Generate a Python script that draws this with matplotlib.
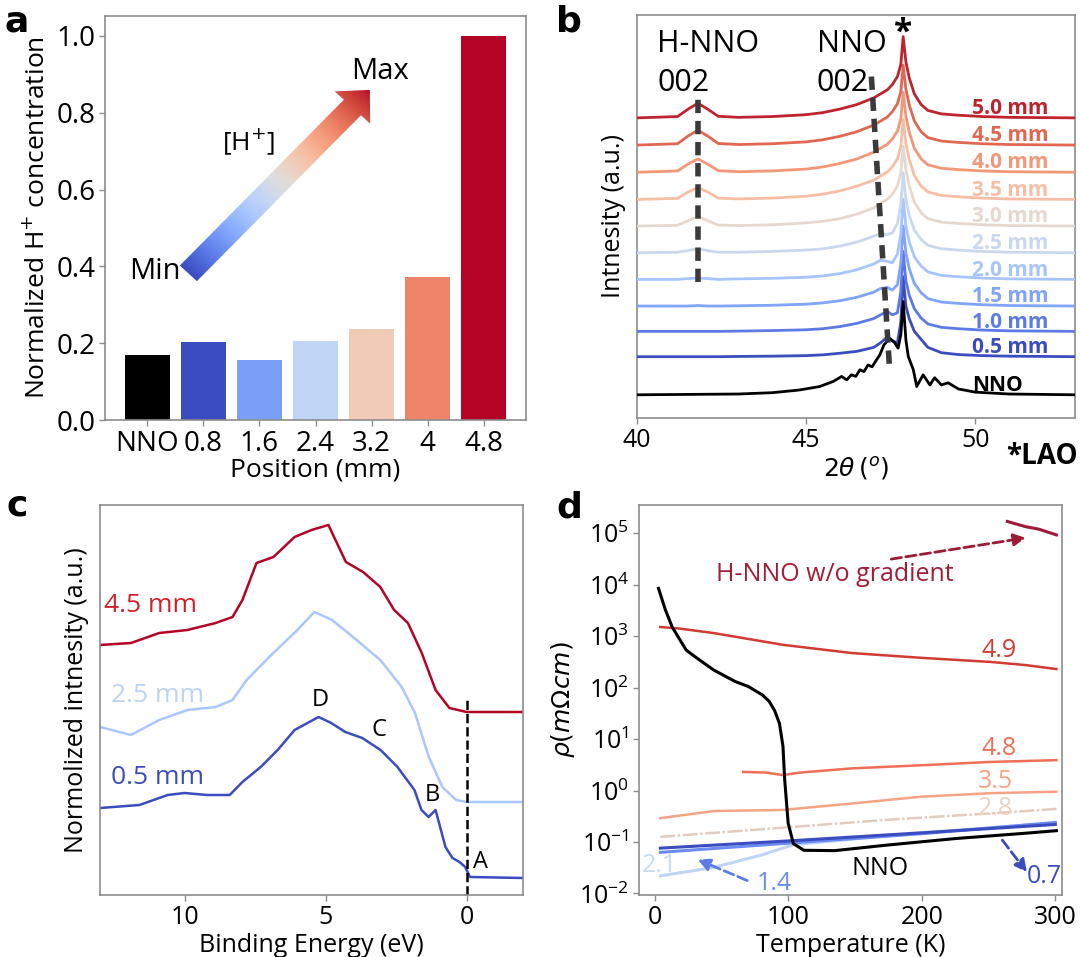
import numpy as np
import matplotlib
matplotlib.use('Agg')
import matplotlib.pyplot as plt
from matplotlib.patches import FancyArrow

plt.rcParams['font.family'] = ['Open Sans', 'DejaVu Sans']
plt.rcParams['mathtext.fontset'] = 'dejavusans'

# ---------------- Panel a data ----------------
a_positions = ['NNO', '0.8', '1.6', '2.4', '3.2', '4', '4.8']
a_conc = [0.169, 0.204, 0.155, 0.206, 0.237, 0.372, 1.0]

# ---------------- Panel b data (XRD, height above each baseline) ----------------
b_labels = ['NNO', '0.5 mm', '1.0 mm', '1.5 mm', '2.0 mm', '2.5 mm',
            '3.0 mm', '3.5 mm', '4.0 mm', '4.5 mm', '5.0 mm']
b_offsets = [0.87, 2.3, 3.25, 4.2, 5.2, 6.2, 7.2, 8.2, 9.22, 10.24, 11.26]
b_tt = [40.0, 41.2, 41.5, 41.8, 42.1, 42.4, 43.0, 44.0, 45.0, 45.5, 46.0, 46.5,
        47.0, 47.2, 47.4, 47.55, 47.7, 47.8, 47.87, 47.95, 48.05, 48.2, 48.4,
        48.6, 49.0, 49.5, 50.2, 51.0, 53.0]
b_05 = [0, 0, 0, 0, 0, 0, 0.01, 0.02, 0.04, 0.07, 0.13, 0.2, 0.35, 0.52, 0.74, 0.6,
        0.52, 1.3, 3.0, 1.9, 1.42, 0.95, 0.65, 0.35, 0.15, 0.08, 0.04, 0.02, 0]
b_10 = [0, 0, 0, 0, 0, 0, 0.01, 0.03, 0.06, 0.1, 0.18, 0.3, 0.48, 0.62, 0.75, 0.62,
        0.7, 1.5, 3.0, 1.9, 1.35, 0.85, 0.5, 0.28, 0.15, 0.1, 0.05, 0.02, 0]
b_15 = [0, 0, 0, 0.02, 0, 0, 0.01, 0.03, 0.07, 0.12, 0.2, 0.33, 0.52, 0.66, 0.7, 0.6,
        0.8, 1.6, 3.0, 2.0, 1.4, 0.85, 0.5, 0.28, 0.15, 0.1, 0.05, 0.02, 0]
b_20 = [0, 0, 0.03, 0.05, 0.03, 0, 0.02, 0.04, 0.08, 0.13, 0.22, 0.36, 0.58, 0.72, 0.68,
        0.62, 0.95, 1.7, 3.0, 2.0, 1.4, 0.85, 0.5, 0.28, 0.15, 0.1, 0.05, 0.02, 0]
b_25 = [0, 0.02, 0.08, 0.15, 0.08, 0.02, 0.02, 0.05, 0.1, 0.15, 0.25, 0.4, 0.62, 0.72,
        0.68, 0.75, 1.1, 1.8, 3.0, 2.0, 1.4, 0.85, 0.5, 0.28, 0.15, 0.1, 0.05, 0.02, 0]
b_30 = [0, 0.03, 0.2, 0.35, 0.2, 0.04, 0.02, 0.05, 0.12, 0.18, 0.28, 0.45, 0.68, 0.85,
        1.0, 1.2, 1.5, 2.0, 3.0, 2.1, 1.5, 0.9, 0.5, 0.28, 0.15, 0.1, 0.05, 0.02, 0]
b_35 = [0, 0.04, 0.27, 0.45, 0.27, 0.05, 0.02, 0.05, 0.12, 0.2, 0.32, 0.5, 0.72, 0.88,
        1.03, 1.22, 1.52, 2.0, 3.0, 2.1, 1.5, 0.9, 0.5, 0.28, 0.15, 0.1, 0.05, 0.02, 0]
b_40 = [0, 0.05, 0.3, 0.5, 0.3, 0.06, 0.02, 0.05, 0.12, 0.2, 0.33, 0.5, 0.75, 0.9,
        1.05, 1.25, 1.55, 2.0, 3.0, 2.1, 1.5, 0.9, 0.5, 0.28, 0.15, 0.1, 0.05, 0.02, 0]
b_45 = [0, 0.05, 0.33, 0.56, 0.33, 0.06, 0.02, 0.05, 0.12, 0.2, 0.33, 0.5, 0.75, 0.9,
        1.05, 1.25, 1.55, 2.0, 3.0, 2.1, 1.5, 0.9, 0.5, 0.28, 0.15, 0.1, 0.05, 0.02, 0]
b_50 = [0, 0.05, 0.32, 0.55, 0.32, 0.06, 0.02, 0.05, 0.12, 0.2, 0.33, 0.5, 0.75, 0.9,
        1.05, 1.25, 1.55, 2.0, 3.05, 2.1, 1.5, 0.9, 0.5, 0.28, 0.15, 0.1, 0.05, 0.02, 0]
b_tt_nno = [40.0, 43.0, 44.0, 44.8, 45.4, 45.8, 46.05, 46.2, 46.34, 46.47, 46.59, 46.71,
            46.83, 46.95, 47.08, 47.18, 47.3, 47.47, 47.62, 47.72, 47.8, 47.87, 47.95,
            48.02, 48.17, 48.27, 48.46, 48.66, 48.8, 49.0, 49.2, 49.5, 50.0, 51.0, 53.0]
b_nno = [0.0, 0.03, 0.08, 0.18, 0.31, 0.5, 0.69, 0.56, 0.75, 0.69, 0.94, 0.87, 1.12,
         1.05, 1.31, 1.5, 1.87, 2.12, 1.95, 1.75, 2.25, 3.5, 2.06, 1.44, 0.94, 0.31,
         0.75, 0.37, 0.64, 0.37, 0.45, 0.22, 0.1, 0.03, 0.0]

# ---------------- Panel c data (XPS valence band) ----------------
c_be_05 = [13.0, 11.6, 10.6, 10.0, 9.2, 8.4, 7.95, 7.3, 6.7, 6.1, 5.25, 4.8, 4.3, 3.7,
           3.05, 2.45, 1.85, 1.6, 1.35, 1.1, 0.75, 0.5, 0.25, 0.05, -0.12, -2.0]
c_int_05 = [8.7, 9.0, 10.0, 10.2, 10.0, 10.0, 11.3, 12.8, 14.5, 16.5, 17.8, 17.2, 16.3,
            15.7, 14.5, 12.8, 10.5, 8.5, 7.8, 8.5, 4.8, 3.7, 3.3, 2.8, 1.8, 1.7]
c_be_25 = [13.0, 11.9, 10.9, 9.9, 8.9, 8.3, 7.8, 7.0, 6.0, 5.4, 4.77, 3.9, 3.06, 2.3,
           1.83, 1.34, 0.86, 0.37, 0.0, -2.0]
c_int_25 = [16.8, 16.0, 17.5, 18.5, 18.8, 19.5, 21.5, 23.8, 26.5, 28.3, 27.5, 25.5, 23.5,
            20.8, 18.2, 13.8, 10.8, 9.5, 9.3, 9.3]
c_be_45 = [13.0, 11.9, 10.9, 9.9, 8.9, 8.3, 7.95, 7.45, 6.85, 6.1, 5.5, 4.9, 4.65, 4.28,
           3.67, 3.06, 2.57, 2.08, 1.59, 1.1, 0.61, 0.0, -2.0]
c_int_45 = [25.0, 25.2, 26.2, 26.5, 27.2, 27.8, 29.5, 33.2, 33.8, 35.8, 36.5, 37.0, 35.5,
            33.3, 32.3, 30.8, 28.5, 27.2, 24.2, 20.5, 18.7, 18.3, 18.3]

# ---------------- Panel d data (resistivity) ----------------
d_T_nno = [2.6, 7.8, 12.9, 23.3, 29.9, 44, 60, 70, 80.5, 85.6, 89.6, 93.3, 95.9, 97.2,
           99.8, 103.7, 111.5, 134.8, 173.7, 225.6, 277.5, 300.8]
d_rho_nno = [8500, 3240, 1500, 540, 400, 220, 132, 105, 72, 54, 36, 20, 7.2, 1.6,
             0.23, 0.093, 0.069, 0.068, 0.087, 0.117, 0.148, 0.166]
d_T_49 = [3.9, 18.1, 44, 95.9, 147.7, 199.6, 251.5, 277.5, 300.8]
d_rho_49 = [1510, 1410, 1150, 680, 470, 380, 316, 275, 230]
d_T_48 = [66.1, 82.9, 95.9, 108.9, 147.7, 199.6, 251.5, 300.8]
d_rho_48 = [2.3, 2.24, 2.0, 2.24, 2.7, 3.1, 3.6, 3.9]
d_T_35 = [3.9, 44, 95.9, 147.7, 199.6, 251.5, 300.8]
d_rho_35 = [0.29, 0.40, 0.42, 0.56, 0.76, 0.89, 0.95]
d_T_28 = [3.9, 95.9, 173.7, 251.5, 300.8]
d_rho_28 = [0.126, 0.19, 0.27, 0.36, 0.44]
d_T_21 = [4, 44, 80, 104, 200, 300]
d_rho_21 = [0.022, 0.032, 0.056, 0.089, 0.151, 0.234]
d_T_14 = [4, 100, 200, 300]
d_rho_14 = [0.063, 0.095, 0.145, 0.24]
d_T_07 = [4, 100, 200, 300]
d_rho_07 = [0.076, 0.105, 0.151, 0.219]
d_T_hnno = [264, 277.5, 287.8, 300.8]
d_rho_hnno = [1.7e5, 1.35e5, 1.2e5, 9.3e4]

# =====================================================================
W, H = 1080, 957
fig = plt.figure(figsize=(W / 100, H / 100), dpi=100)


def px_axes(x0, y0, x1, y1):
    return fig.add_axes([x0 / W, 1 - y1 / H, (x1 - x0) / W, (y1 - y0) / H])


def style(ax, ls=18):
    for s in ax.spines.values():
        s.set_color('#8c8c8c')
        s.set_linewidth(1.2)
    ax.tick_params(labelsize=ls, color='#8c8c8c', length=4, width=1.0, pad=3)


cw = plt.get_cmap('coolwarm')

# ---------------- Panel a ----------------
axa = px_axes(105, 16, 526, 420)
bar_colors = ['black'] + [cw(v) for v in np.linspace(0, 1, 6)]
axa.bar(range(len(a_conc)), a_conc, width=0.8, color=bar_colors)
axa.set_xticks(range(len(a_conc)))
axa.set_xticklabels(a_positions)
axa.set_yticks([0, 0.2, 0.4, 0.6, 0.8, 1.0])
axa.set_yticklabels(['0.0', '0.2', '0.4', '0.6', '0.8', '1.0'])
style(axa, 20)
axa.set_ylabel('Normalized H$^{+}$ concentration', fontsize=19, labelpad=4)
axa.set_xlabel('Position (mm)', fontsize=19, labelpad=0)

x0, y0, x1, y1 = 0.198, 0.363, 0.629, 0.817
arrow = FancyArrow(x0, y0, x1 - x0, y1 - y0, width=0.056, head_width=0.116,
                   head_length=0.06, length_includes_head=True,
                   transform=axa.transAxes, fc='none', ec='none')
axa.add_patch(arrow)
gx, gy = np.meshgrid(np.linspace(0, 1, 300), np.linspace(0, 1, 300))
L2 = (x1 - x0) ** 2 + (y1 - y0) ** 2
tgrad = ((gx - x0) * (x1 - x0) + (gy - y0) * (y1 - y0)) / L2
im = axa.imshow(tgrad, extent=[0, 1, 0, 1], origin='lower', transform=axa.transAxes,
                cmap='coolwarm', vmin=0, vmax=1, aspect='auto', zorder=3,
                interpolation='bilinear')
im.set_clip_path(arrow)
axa.set_xlim(-0.75, 6.75)
axa.set_ylim(0, 1.052)
axa.text(0.119, 0.368, 'Min', transform=axa.transAxes, fontsize=21, ha='center', va='center')
axa.text(0.342, 0.690, '[H$^{+}$]', transform=axa.transAxes, fontsize=19, ha='center', va='center')
axa.text(0.653, 0.862, 'Max', transform=axa.transAxes, fontsize=21, ha='center', va='center')

# ---------------- Panel b ----------------
axb = px_axes(637, 15, 1075, 418)
b_series = [b_nno, b_05, b_10, b_15, b_20, b_25, b_30, b_35, b_40, b_45, b_50]
b_colors = ['black'] + [cw(v) for v in np.linspace(0, 0.97, 10)]
for i, (lab, off, ys, col) in enumerate(zip(b_labels, b_offsets, b_series, b_colors)):
    xs = b_tt_nno if i == 0 else b_tt
    z = 15 if i == 0 else 2 + i
    axb.plot(xs, np.array(ys) + off, color=col, lw=2.0, zorder=z)
    axb.text(49.9, off + 0.35, lab, color=col, fontsize=15, fontweight='bold',
             ha='left', va='center', zorder=20)
axb.plot([41.8, 41.8], [5.12, 12.06], ls=(0, (2.4, 1.4)), lw=4, color='#3a3a3a', zorder=30)
axb.plot([46.93, 47.46], [12.81, 2.0], ls=(0, (2.4, 1.4)), lw=4, color='#3a3a3a', zorder=30)
axb.text(42.1, 14.03, 'H-NNO', fontsize=22, ha='center', va='center')
axb.text(41.39, 12.55, '002', fontsize=22, ha='center', va='center')
axb.text(46.35, 14.03, 'NNO', fontsize=22, ha='center', va='center')
axb.text(46.09, 12.55, '002', fontsize=22, ha='center', va='center')
axb.text(47.87, 14.45, '*', fontsize=24, ha='center', va='center', fontweight='bold')
axb.set_xlim(40, 52.95)
axb.set_ylim(0, 15.12)
axb.set_xticks([40, 45, 50])
axb.set_yticks([])
style(axb, 18)
axb.set_ylabel('Intnesity (a.u.)', fontsize=18, labelpad=8)
axb.set_xlabel(r'$2\theta\,(^{o})$', fontsize=18, labelpad=2)
fig.text(1078 / W, 1 - 457 / H, '*LAO', fontsize=20, fontweight='bold', ha='right', va='center')

# ---------------- Panel c ----------------
axc = px_axes(100, 505, 523, 895)
axc.plot(c_be_45, c_int_45, color='#b40426', lw=1.8)
axc.plot(c_be_25, c_int_25, color='#aac7fd', lw=1.8)
axc.plot(c_be_05, c_int_05, color='#3b4cc0', lw=1.8)
axc.plot([0, 0], [0, 19.5], ls='--', color='black', lw=1.8)
axc.text(12.85, 29.0, '4.5 mm', color='#d0202b', fontsize=19, ha='left', va='center')
axc.text(12.6, 20.0, '2.5 mm', color='#bcd2f7', fontsize=19, ha='left', va='center')
axc.text(12.6, 11.8, '0.5 mm', color='#3b4cc0', fontsize=19, ha='left', va='center')
axc.text(5.2, 19.5, 'D', fontsize=17, ha='center', va='center')
axc.text(3.1, 16.5, 'C', fontsize=17, ha='center', va='center')
axc.text(1.2, 10.0, 'B', fontsize=17, ha='center', va='center')
axc.text(-0.5, 3.3, 'A', fontsize=17, ha='center', va='center')
axc.set_xlim(13, -2)
axc.set_ylim(0, 39)
axc.set_xticks([10, 5, 0])
axc.set_yticks([])
style(axc, 18)
axc.set_xlabel('Binding Energy (eV)', fontsize=18, labelpad=2)
axc.set_ylabel('Normolized intnesity (a.u.)', fontsize=18, labelpad=8)

# ---------------- Panel d ----------------
axd = px_axes(639, 505, 1062, 895)
axd.semilogy(d_T_49, d_rho_49, color='#d23a34', lw=1.8)
axd.semilogy(d_T_48, d_rho_48, color='#ee6f55', lw=1.8)
axd.semilogy(d_T_35, d_rho_35, color='#f6a385', lw=1.8)
axd.semilogy(d_T_28, d_rho_28, color='#e3cbbd', lw=1.8, ls=(0, (6, 1, 1, 1)))
axd.semilogy(d_T_21, d_rho_21, color='#c0d4f5', lw=2.2)
axd.semilogy(d_T_14, d_rho_14, color='#6a8bef', lw=2.2)
axd.semilogy(d_T_07, d_rho_07, color='#3b4cc0', lw=2.2)
axd.semilogy(d_T_nno, d_rho_nno, color='black', lw=2.2)
axd.semilogy(d_T_hnno, d_rho_hnno, color='#9e1a35', lw=2.2)
axd.annotate('', xy=(280, 10 ** 4.92), xytext=(175, 10 ** 4.49),
             arrowprops=dict(arrowstyle='-|>', color='#9e1a35', lw=2, ls='--',
                             mutation_scale=18))
axd.annotate('', xy=(30, 10 ** -1.32), xytext=(71, 10 ** -1.77),
             arrowprops=dict(arrowstyle='-|>', color='#5b7be6', lw=2, ls='--',
                             mutation_scale=18))
axd.annotate('', xy=(280, 10 ** -1.63), xytext=(259, 10 ** -0.92),
             arrowprops=dict(arrowstyle='-|>', color='#3b4cc0', lw=2, ls='--',
                             mutation_scale=18))
axd.text(134.8, 10 ** 4.19, 'H-NNO w/o gradient', color='#a51c36', fontsize=18,
         ha='center', va='center')
axd.text(257.9, 10 ** 2.73, '4.9', color='#d23a34', fontsize=18, ha='center', va='center')
axd.text(257.9, 10 ** 0.82, '4.8', color='#ee6f55', fontsize=18, ha='center', va='center')
axd.text(255, 10 ** 0.17, '3.5', color='#f6a385', fontsize=18, ha='center', va='center')
axd.text(255, 10 ** -0.35, '2.8', color='#e8d3c6', fontsize=18, ha='center', va='center')
axd.text(169, 10 ** -1.51, 'NNO', color='black', fontsize=18, ha='center', va='center')
axd.text(89.4, 10 ** -1.81, '1.4', color='#6a8bef', fontsize=18, ha='center', va='center')
axd.text(3.6, 10 ** -1.45, '2.1', color='#c8dbf7', fontsize=18, ha='center', va='center')
axd.text(292, 10 ** -1.68, '0.7', color='#3b4cc0', fontsize=18, ha='center', va='center')
axd.set_xlim(-12, 305)
axd.set_ylim(10 ** -2.03, 10 ** 5.55)
axd.set_xticks([0, 100, 200, 300])
axd.set_yticks([10.0 ** k for k in range(-2, 6)])
style(axd, 18)
axd.tick_params(which='minor', color='#8c8c8c', length=2)
axd.set_xlabel('Temperature (K)', fontsize=18, labelpad=2)
axd.set_ylabel(r'$\rho(m\Omega cm)$', fontsize=18, labelpad=2)

# panel letters
for lab, (px, py) in zip('abcd', [(17, 22), (569, 22), (17, 505), (569, 507)]):
    fig.text(px / W, 1 - py / H, lab, fontsize=26, fontweight='bold', ha='center', va='center',
             family='DejaVu Sans')

fig.savefig('out.png', dpi=100)
